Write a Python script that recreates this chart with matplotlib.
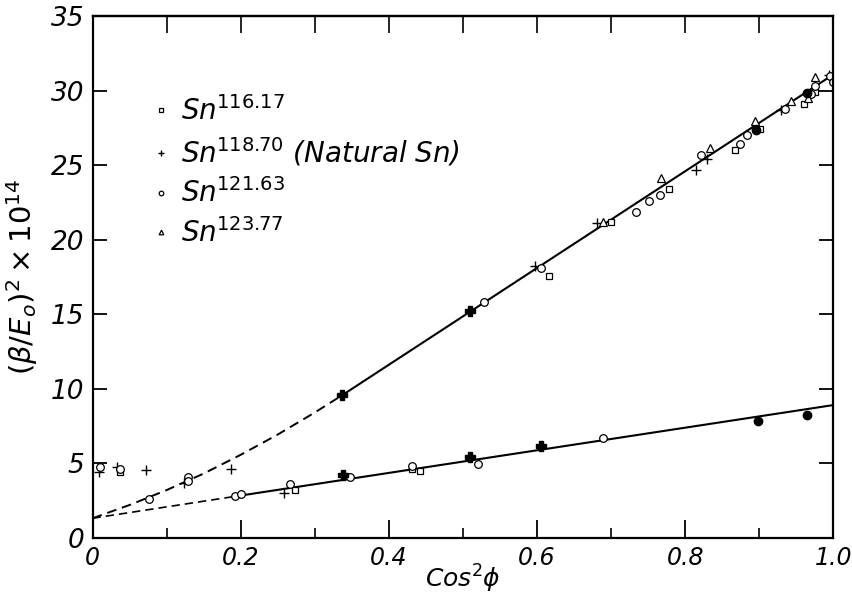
import matplotlib
matplotlib.use("Agg")
import matplotlib.pyplot as plt
from matplotlib.ticker import MultipleLocator

plt.rcParams['font.family'] = 'DejaVu Sans'
plt.rcParams['mathtext.default'] = 'it'

# Sn116.17 (squares)
sq_x = [0.037, 0.274, 0.431, 0.442, 0.616, 0.700, 0.778, 0.867, 0.901, 0.961, 0.976]
sq_y = [4.40, 3.23, 4.62, 4.46, 17.57, 21.2, 23.44, 26.05, 27.42, 29.1, 29.9]

# Sn118.70 natural (plus)
pl_x = [0.009, 0.033, 0.072, 0.124, 0.187, 0.258, 0.598, 0.681, 0.815, 0.830, 0.929, 0.994]
pl_y = [4.42, 4.75, 4.53, 3.70, 4.62, 3.00, 18.27, 21.13, 24.66, 25.45, 28.69, 31.04]

# Sn121.63 (circles)
ci_x = [0.010, 0.037, 0.076, 0.129, 0.129, 0.193, 0.200, 0.267, 0.348, 0.431, 0.521, 0.689,
        0.528, 0.606, 0.734, 0.751, 0.766, 0.821, 0.874, 0.883, 0.935, 0.970, 0.976, 0.995, 1.0]
ci_y = [4.71, 4.60, 2.60, 4.06, 3.79, 2.79, 2.92, 3.59, 4.10, 4.80, 4.93, 6.72,
        15.79, 18.11, 21.9, 22.6, 22.99, 25.67, 26.46, 27.01, 28.8, 29.77, 30.3, 30.97, 30.6]

# Sn123.77 (triangles)
tr_x = [0.689, 0.767, 0.834, 0.894, 0.943, 0.966, 0.976]
tr_y = [21.2, 24.15, 26.19, 27.95, 29.3, 29.5, 30.9]

# heavy (overlapping) points
bp_x = [0.337, 0.509, 0.338, 0.510, 0.606]
bp_y = [9.56, 15.22, 4.22, 5.38, 6.12]
fc_x = [0.898, 0.965, 0.896, 0.965]
fc_y = [7.84, 8.22, 27.35, 29.85]

# fitted curves
up_dash_x = [0.0, 0.05, 0.10, 0.15, 0.20, 0.25, 0.30, 0.337]
up_dash_y = [1.3, 2.19, 3.19, 4.30, 5.56, 6.92, 8.40, 9.56]
up_x = [0.337, 1.0]
up_y = [9.56, 31.1]
lo_dash_x = [0.0, 0.19]
lo_dash_y = [1.3, 2.75]
lo_x = [0.19, 1.0]
lo_y = [2.75, 8.9]

xticks = [0, 0.2, 0.4, 0.6, 0.8, 1.0]
xlabels = ['0', '0.2', '0.4', '0.6', '0.8', '1.0']

fig = plt.figure(figsize=(8.52, 5.98), dpi=100)
ax = fig.add_axes([0.1086, 0.101, 0.8694, 0.8715])

ax.plot(up_dash_x, up_dash_y, color='black', lw=1.4, dashes=(5, 3))
ax.plot(up_x, up_y, color='black', lw=1.5)
ax.plot(lo_dash_x, lo_dash_y, color='black', lw=1.2, dashes=(5, 3))
ax.plot(lo_x, lo_y, color='black', lw=1.5)

h_sq, = ax.plot(sq_x, sq_y, 's', ms=5, mfc='white', mec='black', mew=0.9, ls='none')
h_pl, = ax.plot(pl_x, pl_y, '+', ms=7, mec='black', mew=1.0, ls='none')
h_ci, = ax.plot(ci_x, ci_y, 'o', ms=5.5, mfc='white', mec='black', mew=0.9, ls='none')
h_tr, = ax.plot(tr_x, tr_y, '^', ms=5.5, mfc='white', mec='black', mew=0.9, ls='none')
ax.plot(bp_x, bp_y, 'P', ms=7, color='black', ls='none')
ax.plot(fc_x, fc_y, 'o', ms=6, color='black', ls='none')

leg = ax.legend([h_sq, h_pl, h_ci, h_tr],
                ['Sn$^{116.17}$', 'Sn$^{118.70}$ (Natural Sn)', 'Sn$^{121.63}$', 'Sn$^{123.77}$'],
                loc='upper left', bbox_to_anchor=(0.048, 0.895), frameon=False,
                markerscale=0.6, handlelength=0.6, handletextpad=0.4,
                labelspacing=0.35, prop={'size': 20, 'style': 'italic'})

ax.set_xlim(0, 1.0)
ax.set_ylim(0, 35)
ax.set_xticks(xticks, labels=xlabels)
ax.xaxis.set_minor_locator(MultipleLocator(0.1))
ax.yaxis.set_major_locator(MultipleLocator(5))
ax.tick_params(which='major', direction='in', length=13, width=1.3, right=True,
               labelsize=17, pad=6)
ax.tick_params(axis='y', which='major', length=10, labelsize=19)
ax.tick_params(which='minor', direction='in', length=7, width=1.2)
for lbl in ax.get_xticklabels() + ax.get_yticklabels():
    lbl.set_fontstyle('italic')

top = ax.secondary_xaxis('top')
top.xaxis.set_major_locator(MultipleLocator(0.1))
top.tick_params(direction='in', length=12, width=1.2, labeltop=False)

for sp in ax.spines.values():
    sp.set_linewidth(1.6)
top.spines['top'].set_linewidth(1.6)

ax.set_xlabel('Cos$^2\\phi$', fontsize=18, labelpad=-5, fontstyle='italic')
ax.set_ylabel('$(\\beta/E_o)^2 \\times 10^{14}$', fontsize=21, labelpad=8)

fig.savefig('out.png', dpi=100)
